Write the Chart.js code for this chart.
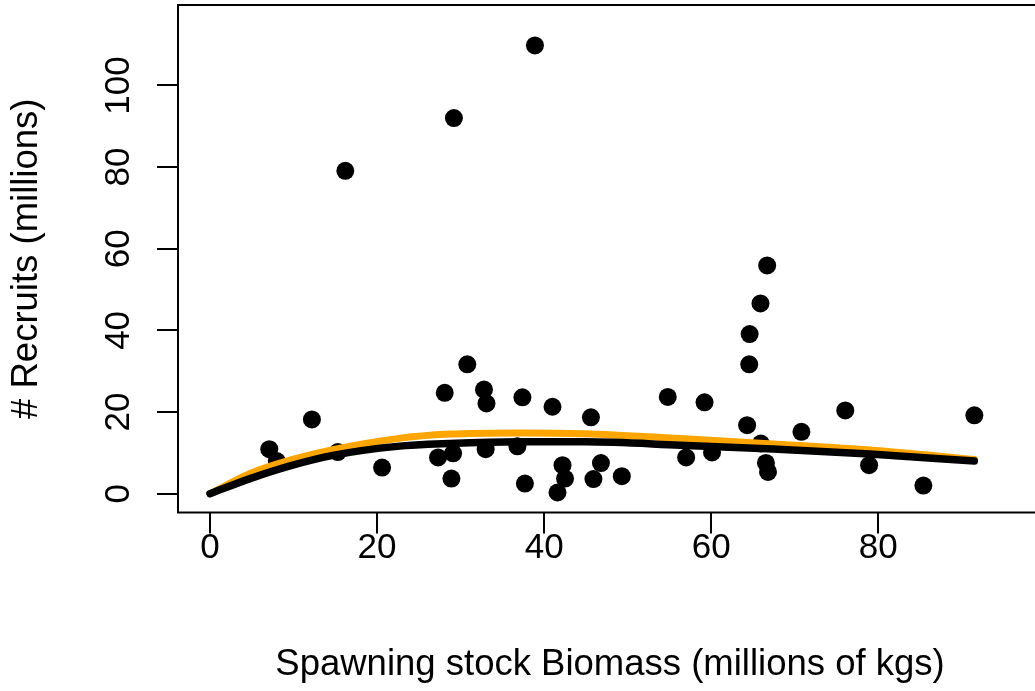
<!DOCTYPE html>
<html>
<head>
<meta charset="utf-8">
<script src="https://cdn.jsdelivr.net/npm/chart.js@4/dist/chart.umd.min.js"></script>
<style>
  html, body { margin: 0; padding: 0; background: #fff; overflow: hidden; }
  #wrap { position: absolute; left: 0; top: 0; width: 1046px; height: 691px; }
</style>
</head>
<body>
<div id="wrap"><canvas id="chart"></canvas></div>
<script>
// observed stock / recruitment pairs
const biomass = [7.1, 8.0, 12.2, 15.3, 16.2, 20.6, 27.3, 28.1, 28.9, 29.1, 29.2, 30.8, 32.8, 33.1, 33.0,
    36.8, 37.4, 37.7, 38.9, 41.0, 41.6, 42.2, 42.5, 45.6, 45.9, 46.8, 49.3, 54.8, 57.0, 59.2, 60.1,
    64.3, 64.55, 64.6, 65.9, 66.7, 65.95, 66.55, 66.8, 70.8, 76.05, 78.9, 85.4, 91.5];
const recruits = [10.9, 8.0, 18.2, 10.2, 79.1, 6.4, 8.9, 24.7, 3.7, 9.9, 92.0, 31.7, 25.5, 22.1, 10.9,
    11.6, 23.6, 2.5, 109.8, 21.3, 0.3, 7.0, 3.7, 18.7, 3.6, 7.5, 4.3, 23.7, 8.9, 22.4, 10.1,
    16.8, 31.7, 39.1, 46.6, 55.9, 12.3, 7.55, 5.35, 15.15, 20.4, 7.0, 2.0, 19.2];

// fitted curves
const curveX = [0, 4.8, 9.9, 14.7, 22.4, 28.7, 37.1, 44.9, 56.3, 67.4, 79.0, 91.5];
const fitBlack = [0, 3.7, 7.0, 9.4, 11.6, 12.3, 12.7, 12.7, 11.9, 10.95, 9.7, 8.0];
const fitOrange = [0, 4.95, 8.4, 10.8, 13.5, 14.6, 14.9, 14.7, 13.5, 12.2, 10.7, 8.4];

const xTicks = [0, 20, 40, 60, 80];
const yTicks = [0, 20, 40, 60, 80, 100];

const FONT = '"Liberation Sans", Arial, sans-serif';
const toXY = (xs, ys) => xs.map((x, i) => ({ x: x, y: ys[i] }));

// R-style box and rotated y labels
const rBox = {
    id: 'rBox',
    afterDraw(chart) {
        const { ctx, chartArea: a, scales: { y } } = chart;
        ctx.save();
        ctx.strokeStyle = '#000';
        ctx.lineWidth = 2;
        ctx.strokeRect(a.left, a.top, a.right - a.left, a.bottom - a.top);
        ctx.fillStyle = '#000';
        ctx.font = '35px ' + FONT;
        ctx.textAlign = 'center';
        ctx.textBaseline = 'alphabetic';
        yTicks.forEach(v => {
            ctx.save();
            ctx.translate(129, y.getPixelForValue(v));
            ctx.rotate(-Math.PI / 2);
            ctx.fillText(String(v), 0, 0);
            ctx.restore();
        });
        ctx.restore();
    }
};

new Chart(document.getElementById('chart'), {
    type: 'scatter',
    data: {
        datasets: [
            {
                type: 'line',
                data: toXY(curveX, fitBlack),
                borderColor: '#000000',
                borderWidth: 7.5,
                borderCapStyle: 'round',
                borderJoinStyle: 'round',
                cubicInterpolationMode: 'monotone',
                pointRadius: 0,
                fill: false,
                order: 0
            },
            {
                type: 'line',
                data: toXY(curveX, fitOrange),
                borderColor: '#FFA500',
                borderWidth: 7,
                borderCapStyle: 'round',
                borderJoinStyle: 'round',
                cubicInterpolationMode: 'monotone',
                pointRadius: 0,
                fill: false,
                order: 1
            },
            {
                data: toXY(biomass, recruits),
                backgroundColor: '#000000',
                borderColor: '#000000',
                borderWidth: 0,
                pointRadius: 9,
                order: 2
            }
        ]
    },
    options: {
        responsive: true,
        maintainAspectRatio: false,
        animation: false,
        layout: { autoPadding: false, padding: { left: 0, top: 5, right: 4, bottom: 0 } },
        plugins: { legend: { display: false }, tooltip: { enabled: false } },
        scales: {
            x: {
                type: 'linear',
                min: -3.83,
                max: 99.6,
                afterBuildTicks: s => { s.ticks = xTicks.map(v => ({ value: v })); },
                afterFit: s => { s.height = 178.5; },
                border: { display: false },
                grid: { drawOnChartArea: false, drawTicks: true, tickLength: 21, lineWidth: 2, tickWidth: 2, tickColor: '#000' },
                ticks: { padding: -6, color: '#000', font: { family: FONT, size: 35 }, maxRotation: 0 },
                title: {
                    display: true,
                    text: 'Spawning stock Biomass (millions of kgs)',
                    color: '#000',
                    font: { family: FONT, size: 36.5 },
                    padding: { top: 0, bottom: 4 }
                }
            },
            y: {
                type: 'linear',
                min: -4.6,
                max: 119.7,
                afterBuildTicks: s => { s.ticks = yTicks.map(v => ({ value: v })); },
                afterFit: s => { s.width = 178; },
                border: { display: false },
                grid: { drawOnChartArea: false, drawTicks: true, tickLength: 21, lineWidth: 2, tickWidth: 2, tickColor: '#000' },
                ticks: { display: false },
                title: {
                    display: true,
                    text: '# Recruits (millions)',
                    color: '#000',
                    font: { family: FONT, size: 36.5 },
                    padding: { top: 5, bottom: 0 }
                }
            }
        }
    },
    plugins: [rBox]
});
</script>
</body>
</html>
